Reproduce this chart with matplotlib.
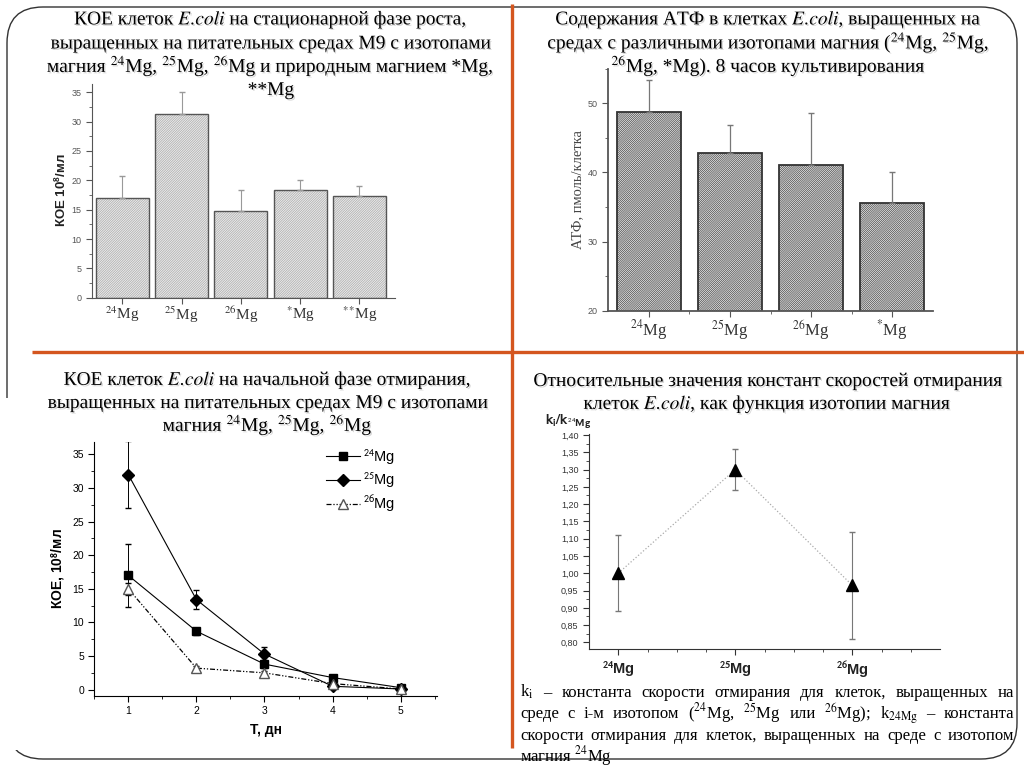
import matplotlib
matplotlib.use("Agg")
import matplotlib.pyplot as plt
import matplotlib.patheffects as pe
from matplotlib.patches import FancyBboxPatch, Rectangle
from matplotlib.font_manager import FontProperties
from matplotlib.ticker import MultipleLocator, FuncFormatter

W, H = 1024, 768
SERIF = "Liberation Serif"
SANS = "Liberation Sans"
ORANGE = "#d4561f"

plt.rcParams["font.family"] = [SANS, "DejaVu Sans"]
plt.rcParams["mathtext.fontset"] = "stixsans"
plt.rcParams["hatch.linewidth"] = 0.6

# ===== данные =====
# 1. КОЕ на стационарной фазе роста
koe_labels = [r"$^{24}$Mg", r"$^{25}$Mg", r"$^{26}$Mg", r"$^{*}$Mg", r"$^{*}$$^{*}$Mg"]
koe_vals = [17.0, 31.3, 14.7, 18.3, 17.3]
koe_err = [3.7, 3.8, 3.7, 1.8, 1.8]

# 2. АТФ, 8 часов
atp_labels = [r"$^{24}$Mg", r"$^{25}$Mg", r"$^{26}$Mg", r"$^{*}$Mg"]
atp_vals = [48.7, 42.8, 41.0, 35.5]
atp_err = [4.7, 4.0, 7.6, 4.5]

# 3. КОЕ на фазе отмирания
days = [1, 2, 3, 4, 5]
mg24 = [17.0, 8.7, 3.8, 1.8, 0.3]
mg24_err = [4.7, 0.5, 0.6, 0.4, 0.2]
mg25 = [32.0, 13.4, 5.3, 0.5, 0.1]
mg25_err = [5.0, 1.4, 1.0, 0.2, 0.1]
mg26 = [15.0, 3.2, 2.5, 0.9, 0.1]
mg26_err = [0.9, 0.3, 0.3, 0.2, 0.1]

# 4. относительные константы отмирания
iso_labels = [r"$^{\mathbf{24}}$Mg", r"$^{\mathbf{25}}$Mg", r"$^{\mathbf{26}}$Mg"]
k_rel = [1.00, 1.30, 0.965]
k_err = [0.11, 0.06, 0.155]


fig = plt.figure(figsize=(W / 100, H / 100), dpi=100)


def px_axes(x0, y0, x1, y1):
    # оси по пиксельным координатам (начало сверху слева)
    ax = fig.add_axes([x0 / W, 1 - y1 / H, (x1 - x0) / W, (y1 - y0) / H])
    ax.set_facecolor("none")
    return ax


def style_axes(ax, col):
    for s in ["top", "right"]:
        ax.spines[s].set_visible(False)
    for s in ["left", "bottom"]:
        ax.spines[s].set_color(col)
    ax.tick_params(which="both", direction="out", color=col, labelcolor=col)
    ax.tick_params(which="major", length=4)
    ax.tick_params(which="minor", length=2)


# ---------- 1. столбцы КОЕ ----------
ax1 = px_axes(92, 83.5, 395, 297.7)
x1 = list(range(1, len(koe_vals) + 1))
ax1.bar(x1, koe_vals, 0.89, color="#f0f0f0", edgecolor="#b0b0b0", hatch="/" * 14, linewidth=0)
ax1.bar(x1, koe_vals, 0.89, fill=False, edgecolor="#555555", linewidth=1.0)
ax1.errorbar(x1, koe_vals, yerr=[[0] * len(koe_err), koe_err], fmt="none",
             ecolor="#999999", elinewidth=0.8, capsize=2)
ax1.set_xlim(0.49, 5.6)
ax1.set_ylim(0, 36.5)
style_axes(ax1, "#555555")
ax1.yaxis.set_major_locator(MultipleLocator(5))
ax1.yaxis.set_minor_locator(MultipleLocator(2.5))
ax1.tick_params(axis="y", labelsize=6.5)
ax1.set_xticks(x1)
ax1.set_xticklabels(koe_labels, fontfamily=SERIF, math_fontfamily="stix", fontsize=11, color="#333333")
ax1.tick_params(axis="x", pad=1)
ax1.set_ylabel(r"КОЕ 10$^{\mathbf{8}}$/мл", fontsize=9.5, fontweight="bold", color="#222222", labelpad=2)

# ---------- 2. столбцы АТФ ----------
ax2 = px_axes(608.3, 68.6, 932.7, 310.7)
x2 = list(range(1, len(atp_vals) + 1))
ax2.bar(x2, atp_vals, 0.79, color="white", edgecolor="#555555", hatch="/" * 16, linewidth=0)
ax2.bar(x2, atp_vals, 0.79, fill=False, edgecolor="#333333", linewidth=1.3)
ax2.errorbar(x2, atp_vals, yerr=[[0] * len(atp_err), atp_err], fmt="none",
             ecolor="#777777", elinewidth=0.9, capsize=2)
ax2.set_xlim(0.5, 4.5)
ax2.set_ylim(20, 55)
style_axes(ax2, "#555555")
ax2.spines["left"].set_linewidth(1.3)
ax2.spines["bottom"].set_linewidth(1.3)
ax2.yaxis.set_major_locator(MultipleLocator(10))
ax2.yaxis.set_minor_locator(MultipleLocator(5))
ax2.tick_params(axis="y", labelsize=6.5)
ax2.set_xticks(x2)
ax2.set_xticks([1.5, 2.5, 3.5], minor=True)
ax2.set_xticklabels(atp_labels, fontfamily=SERIF, math_fontfamily="stix", fontsize=12, color="#333333")
ax2.tick_params(axis="x", pad=1)
ax2.set_ylabel("АТФ, пмоль/клетка", fontfamily=SERIF, fontsize=10.5, color="#444444", labelpad=3)

# ---------- 3. кривые отмирания ----------
ax3 = px_axes(94.3, 441.7, 436.7, 695.7)
ekw = dict(fmt="none", ecolor="black", elinewidth=0.7, capsize=2.5)
ax3.errorbar(days, mg24, yerr=mg24_err, **ekw)
ax3.errorbar(days, mg25, yerr=mg25_err, **ekw)
ax3.errorbar(days, mg26, yerr=mg26_err, **ekw)
ax3.plot(days, mg24, color="black", lw=0.8, marker="s", ms=6, label=r"$^{24}$Mg")
ax3.plot(days, mg25, color="black", lw=0.8, marker="D", ms=6, label=r"$^{25}$Mg")
ax3.plot(days, mg26, color="black", lw=0.9, marker="^", ms=7, mfc="white", mec="#555555",
         ls=(0, (4, 1.5, 1, 1.5, 1, 1.5)), label=r"$^{26}$Mg")
ax3.set_xlim(0.5, 5.53)
ax3.set_ylim(-0.9, 36.9)
style_axes(ax3, "black")
ax3.xaxis.set_major_locator(MultipleLocator(1))
ax3.xaxis.set_minor_locator(MultipleLocator(0.5))
ax3.yaxis.set_major_locator(MultipleLocator(5))
ax3.yaxis.set_minor_locator(MultipleLocator(2.5))
ax3.tick_params(labelsize=7.5)
ax3.set_xlabel("Т, дн", fontsize=10, fontweight="bold", labelpad=5)
ax3.set_ylabel(r"КОЕ, 10$^{\mathbf{8}}$/мл", fontsize=10, fontweight="bold", labelpad=4)
ax3.legend(loc="upper left", bbox_to_anchor=((326 - 94.3) / 342.4, (695.7 - 447) / 254),
           frameon=False, handlelength=2.3, borderpad=0, borderaxespad=0,
           labelspacing=0.25, handletextpad=0.25,
           prop=FontProperties(family=SANS, size=10.5, math_fontfamily="stixsans"))

# ---------- 4. относительные константы ----------
ax4 = px_axes(589, 434.3, 940, 649.3)
x4 = list(range(1, len(k_rel) + 1))
ax4.plot(x4, k_rel, ls=":", color="#aaaaaa", lw=0.9)
ax4.errorbar(x4, k_rel, yerr=k_err, fmt="none", ecolor="#777777", elinewidth=0.8, capsize=2.5)
ax4.plot(x4, k_rel, ls="none", marker="^", ms=8, color="black")
ax4.set_xlim(0.75, 3.75)
ax4.set_ylim(0.78, 1.402)
style_axes(ax4, "#333333")
ax4.yaxis.set_major_locator(MultipleLocator(0.05))
ax4.yaxis.set_minor_locator(MultipleLocator(0.025))
ax4.yaxis.set_major_formatter(FuncFormatter(lambda v, p: f"{v:.2f}".replace(".", ",")))
ax4.tick_params(axis="y", labelsize=6.5)
ax4.set_xticks(x4)
ax4.set_xticks([1.25, 1.5, 1.75, 2.25, 2.5, 2.75, 3.25, 3.5], minor=True)
ax4.set_xticklabels(iso_labels, fontsize=10.5, fontweight="bold", color="#222222")

# ---------- рамка слайда и подписи ----------
ov = fig.add_axes([0, 0, 1, 1], zorder=10)
ov.set_facecolor("none")
ov.set_xlim(0, W)
ov.set_ylim(H, 0)
ov.axis("off")

ov.add_patch(FancyBboxPatch((7, 7), 1010, 752, boxstyle="round,pad=0,rounding_size=36",
                            fill=False, edgecolor="#333333", linewidth=1.0))
ov.add_patch(Rectangle((0, 398), 26, 352, facecolor="white", edgecolor="none"))
ov.plot([512, 512], [4, 748], color=ORANGE, lw=2.4, solid_capstyle="butt")
ov.plot([32, W], [352, 352], color=ORANGE, lw=2.4, solid_capstyle="butt")

# заголовки с лёгкой тенью, как на слайде
shadow = [pe.withSimplePatchShadow(offset=(1, -1), shadow_rgbFace="#888888", alpha=0.35)]
tkw = dict(fontfamily=SERIF, math_fontfamily="stix", fontsize=14, ha="center",
           va="baseline", color="black", path_effects=shadow)
EC = r"$\mathit{E.\!coli}$"
titles = [
    (271, [24.5, 48.5, 72, 95], [
        "КОЕ клеток " + EC + " на стационарной фазе роста,",
        "выращенных на питательных средах М9 с изотопами",
        r"магния $^{24}$Mg, $^{25}$Mg, $^{26}$Mg и природным магнием *Mg,",
        "**Mg"]),
    (769, [24.5, 48.5, 72], [
        "Содержания АТФ в клетках " + EC + ", выращенных на",
        r"средах с различными изотопами магния ($^{24}$Mg, $^{25}$Mg,",
        r"$^{26}$Mg, *Mg). 8 часов культивирования"]),
    (268, [385, 408, 431], [
        "КОЕ клеток " + EC + " на начальной фазе отмирания,",
        "выращенных на питательных средах М9 с изотопами",
        r"магния $^{24}$Mg, $^{25}$Mg, $^{26}$Mg"]),
    (768, [386, 409], [
        "Относительные значения констант скоростей отмирания",
        "клеток " + EC + ", как функция изотопии магния"]),
]
for cx, ys, lines in titles:
    for y, s in zip(ys, lines):
        ov.text(cx, y, s, **tkw)

ov.text(545, 425, r"$\mathbf{k_i/k}_{{}^{24}\mathbf{Mg}}$", fontsize=10.5,
        math_fontfamily="stixsans", ha="left", va="baseline", color="#222222")

# подпись под графиком 4, выровненная по ширине
ckw = dict(fontfamily=SERIF, math_fontfamily="stix", fontsize=12, va="baseline", color="black")
cap_lines = [
    [r"k$_{\mathrm{i}}$", "–", "константа", "скорости", "отмирания", "для", "клеток,", "выращенных", "на"],
    ["среде", "с", "i-м", "изотопом", r"($^{24}$Mg,", r"$^{25}$Mg", "или", r"$^{26}$Mg);",
     r"k$_{\mathrm{24Mg}}$", "–", "константа"],
    ["скорости", "отмирания", "для", "клеток,", "выращенных", "на", "среде", "с", "изотопом"],
]
cap_y = [697, 718.5, 740]
fig.canvas.draw()
rend = fig.canvas.get_renderer()
cx0, cx1 = 520, 1014
for words, y in zip(cap_lines, cap_y):
    ts = [ov.text(0, y, w, ha="left", **ckw) for w in words]
    ws = [t.get_window_extent(rend).width for t in ts]
    gap = max((cx1 - cx0 - sum(ws)) / (len(words) - 1), 3)
    x = cx0
    for t, w in zip(ts, ws):
        t.set_x(x)
        x += w + gap
ov.text(cx0, 761.5, r"магния $^{24}$Mg", ha="left", **ckw)

fig.savefig("out.png", dpi=100)
